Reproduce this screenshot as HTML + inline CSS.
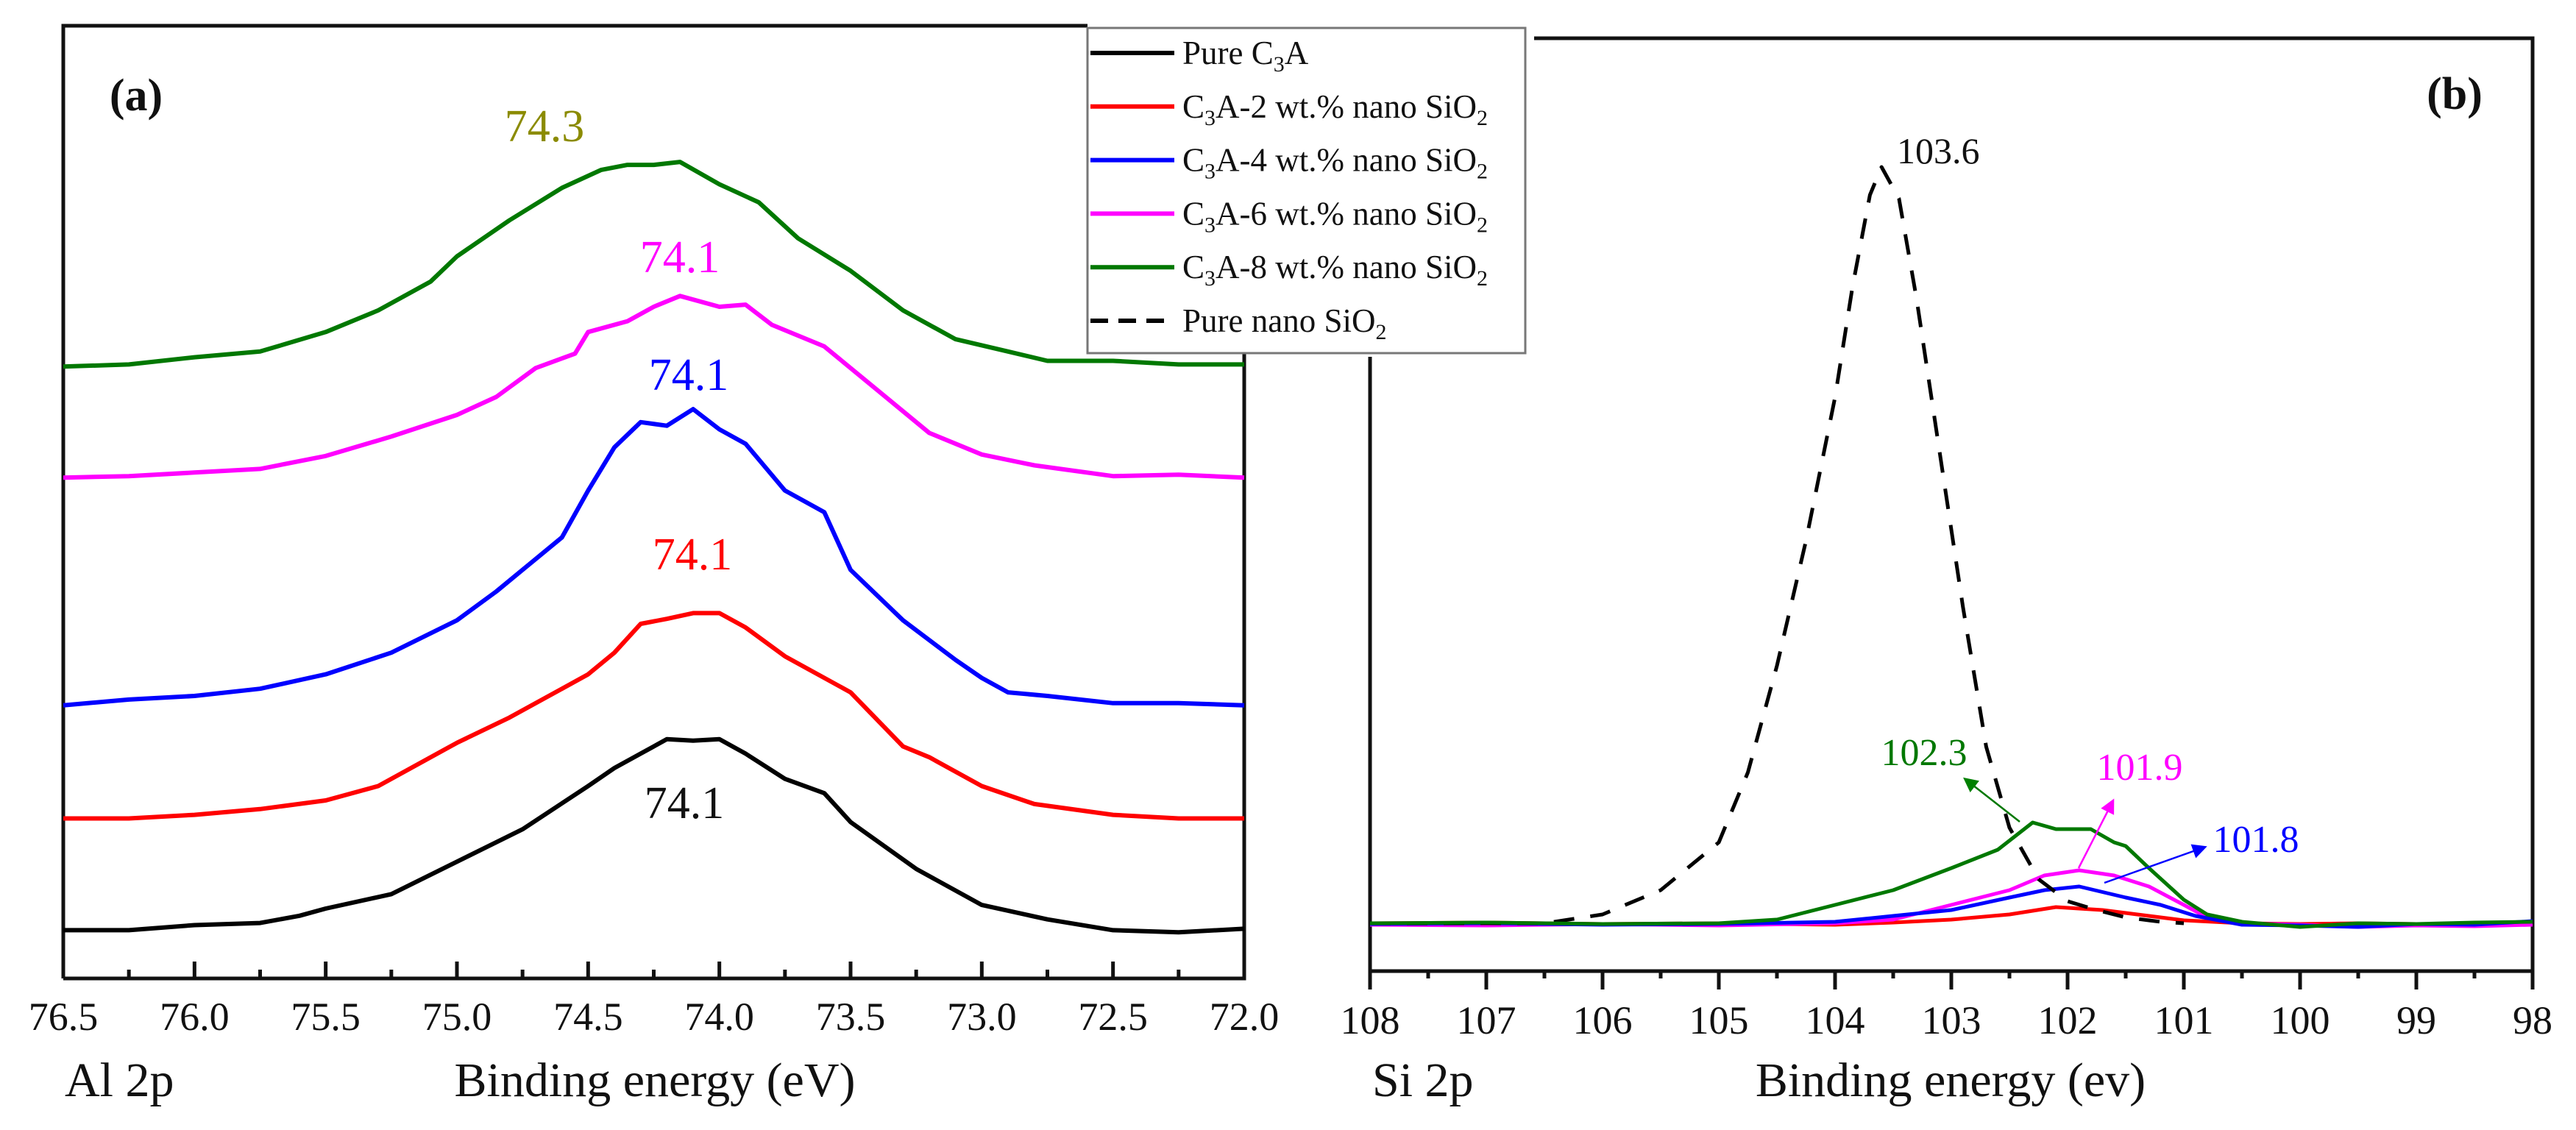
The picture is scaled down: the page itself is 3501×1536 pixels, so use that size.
<!DOCTYPE html>
<html><head><meta charset="utf-8"><style>
html,body{margin:0;padding:0;background:#fff;}
svg{display:block;font-family:"Liberation Serif","Times New Roman",serif;}
svg text{font-family:"Liberation Serif","Times New Roman",serif;}
</style></head><body>
<svg id="fig" width="3501" height="1536" viewBox="0 0 3501 1536" xmlns="http://www.w3.org/2000/svg" font-family="Liberation Serif, serif">
<defs>
<marker id="arrG" markerWidth="8" markerHeight="8" refX="6" refY="4" orient="auto" markerUnits="strokeWidth"><path d="M0,0 L8,4 L0,8 z" fill="#008000"/></marker>
<marker id="arrM" markerWidth="8" markerHeight="8" refX="6" refY="4" orient="auto" markerUnits="strokeWidth"><path d="M0,0 L8,4 L0,8 z" fill="#ff00ff"/></marker>
<marker id="arrB" markerWidth="8" markerHeight="8" refX="6" refY="4" orient="auto" markerUnits="strokeWidth"><path d="M0,0 L8,4 L0,8 z" fill="#0000ff"/></marker>
</defs>
<g id="panelA"></g>
<g id="panelB"></g>
<g id="legend"></g>
</svg>
<script>
// ---------- Panel (a) data: Al 2p ----------
const aBlackX = [76.5,76.25,76.0,75.75,75.6,75.5,75.25,75.0,74.75,74.5,74.4,74.3,74.2,74.1,74.0,73.9,73.75,73.6,73.5,73.25,73.0,72.75,72.5,72.25,72.0];
const aBlackY = [6.7,6.7,7.4,7.7,8.7,9.7,11.7,16.2,20.7,26.7,29.2,31.2,33.2,33.0,33.2,31.2,27.7,25.7,21.7,15.2,10.2,8.2,6.7,6.4,6.9];
const aRedX = [76.5,76.25,76.0,75.75,75.5,75.3,75.0,74.8,74.6,74.5,74.4,74.3,74.2,74.1,74.0,73.9,73.75,73.5,73.3,73.2,73.0,72.8,72.5,72.25,72.0];
const aRedY = [22.2,22.2,22.7,23.5,24.7,26.7,32.7,36.2,40.2,42.2,45.2,49.2,49.9,50.7,50.7,48.7,44.7,39.7,32.2,30.7,26.7,24.2,22.7,22.2,22.2];
const aBlueX = [76.5,76.25,76.0,75.75,75.5,75.25,75.0,74.85,74.75,74.6,74.5,74.4,74.3,74.2,74.1,74.0,73.9,73.75,73.6,73.5,73.3,73.1,73.0,72.9,72.75,72.5,72.25,72.0];
const aBlueY = [37.9,38.7,39.2,40.2,42.2,45.2,49.7,53.7,56.7,61.2,67.7,73.7,77.2,76.7,79.0,76.2,74.2,67.7,64.7,56.7,49.7,44.2,41.7,39.7,39.2,38.2,38.2,37.9];
const aMagX = [76.5,76.25,76.0,75.75,75.5,75.25,75.0,74.85,74.7,74.55,74.5,74.35,74.25,74.15,74.0,73.9,73.8,73.6,73.4,73.2,73.0,72.8,72.5,72.25,72.0];
const aMagY = [69.5,69.7,70.2,70.7,72.5,75.2,78.2,80.7,84.7,86.7,89.7,91.2,93.2,94.7,93.2,93.5,90.7,87.7,81.7,75.7,72.7,71.2,69.7,69.9,69.5];
const aGreenX = [76.5,76.25,76.0,75.75,75.5,75.3,75.1,75.0,74.8,74.6,74.45,74.35,74.25,74.15,74.0,73.85,73.7,73.5,73.3,73.1,72.9,72.75,72.5,72.25,72.0];
const aGreenY = [84.9,85.2,86.2,87.0,89.7,92.7,96.7,100.2,105.2,109.7,112.2,112.9,112.9,113.3,110.2,107.7,102.7,98.2,92.7,88.7,87.0,85.7,85.7,85.2,85.2];
const aTickLabels = ["76.5","76.0","75.5","75.0","74.5","74.0","73.5","73.0","72.5","72.0"];
const aPeakLabels = ["74.1","74.1","74.1","74.1","74.3"];

// ---------- Panel (b) data: Si 2p ----------
const bDashX = [108,107.5,107,106.5,106,105.5,105,104.75,104.5,104.25,104,103.85,103.7,103.6,103.45,103.3,103.1,102.9,102.7,102.5,102.25,102,101.75,101.5,101.2,101];
const bDashY = [6.5,6.5,6.5,6.5,7.7,11.0,17.5,27.0,41.5,58.5,78.0,93.0,105.5,109.3,105.0,91.5,70.5,49.5,30.5,19.5,12.5,9.5,8.3,7.3,6.7,6.5];
const bGreenX = [108,107,106,105,104.5,104,103.5,103,102.6,102.3,102.1,101.8,101.6,101.5,101.3,101.0,100.8,100.5,100,99.5,99,98.5,98];
const bGreenY = [6.5,6.6,6.4,6.5,7.0,9.0,11.0,14.0,16.5,20.2,19.3,19.3,17.5,17.0,14.0,9.7,7.7,6.7,6.0,6.5,6.4,6.6,6.7];
const bMagX = [108,107,106,105,104,103.5,103,102.5,102.2,101.9,101.6,101.3,101.0,100.8,100.5,100,99.5,99,98.5,98];
const bMagY = [6.3,6.2,6.4,6.2,6.5,7.0,9.0,11.0,13.0,13.7,13.0,11.5,9.0,7.3,6.5,6.3,6.0,6.2,6.1,6.3];
const bBlueX = [108,107,106,105,104,103.5,103,102.5,102.2,101.9,101.5,101.2,100.9,100.5,100,99.5,99,98.5,98];
const bBlueY = [6.4,6.5,6.3,6.4,6.7,7.5,8.3,10.0,11.0,11.5,10.0,9.0,7.5,6.3,6.2,6.0,6.4,6.3,6.8];
const bRedX = [108,107,106,105,104,103.5,103,102.5,102.1,101.7,101.3,101,100.5,100,99.5,99,98.5,98];
const bRedY = [6.5,6.6,6.4,6.5,6.3,6.6,7.0,7.7,8.7,8.3,7.5,6.9,6.5,6.4,6.5,6.4,6.3,6.5];
const bTickLabels = ["108","107","106","105","104","103","102","101","100","99","98"];

// ---------- Legend ----------
const legendNames = ["Pure C|3|A","C|3|A-2 wt.% nano SiO|2|","C|3|A-4 wt.% nano SiO|2|","C|3|A-6 wt.% nano SiO|2|","C|3|A-8 wt.% nano SiO|2|","Pure nano SiO|2|"];
const legendColors = ["#000000","#ff0000","#0000ff","#ff00ff","#007800","#000000"];

const NS = "http://www.w3.org/2000/svg";
const FF = "Liberation Serif, Times New Roman, serif";
function mk(parent, tag, attrs){const e=document.createElementNS(NS,tag);for(const k in attrs)e.setAttribute(k,attrs[k]);if(tag==="text")e.setAttribute("font-family",FF);parent.appendChild(e);return e;}

const axA = {l:86, r:1691, t:35, b:1330, x0:76.5, x1:72.0, y0:0, y1:132.2};
const axB = {l:1862, r:3442, t:52, b:1320, x0:108, x1:98, y0:0, y1:126.8};
function sx(ax,v){return ax.l+(v-ax.x0)/(ax.x1-ax.x0)*(ax.r-ax.l);}
function sy(ax,v){return ax.b-(v-ax.y0)/(ax.y1-ax.y0)*(ax.b-ax.t);}
function pathOf(ax,xs,ys){return xs.map((x,i)=>(i?"L":"M")+sx(ax,x).toFixed(1)+","+sy(ax,ys[i]).toFixed(1)).join(" ");}

const gA=document.getElementById("panelA"), gB=document.getElementById("panelB"), gL=document.getElementById("legend");

let e;
e=mk(gA,"path",{d:`M${axA.l},${axA.b} L${axA.l},${axA.t} L1478,${axA.t} M${axA.l},${axA.b} L${axA.r},${axA.b} L${axA.r},480`,fill:"none",stroke:"#111",["stroke-width"]:5});


for(let i=0;i<=18;i++){
  const v=76.5-i*0.25, x=sx(axA,v), major=i%2===0;
  e=mk(gA,"line",{x1:x,y1:axA.b,x2:x,y2:axA.b-(major?23:12),stroke:"#111",["stroke-width"]:5});
  
  
}
aTickLabels.forEach((t,i)=>{
  e=mk(gA,"text",{x:sx(axA,76.5-i*0.5),y:1400,["font-size"]:54,["text-anchor"]:"middle",fill:"#111"});e.textContent=t;
  
  
});
e=mk(gA,"text",{x:890,y:1490,["font-size"]:66,["text-anchor"]:"middle",fill:"#111"});e.textContent="Binding energy (eV)";


e=mk(gA,"text",{x:88,y:1490,["font-size"]:66,fill:"#111"});e.textContent="Al 2p";


e=mk(gA,"text",{x:185,y:150,["font-size"]:62,["font-weight"]:"bold",["text-anchor"]:"middle",fill:"#111"});e.textContent="(a)";



const seriesA=[[aBlackX,aBlackY,"#000000","series-a-pure-c3a"],[aRedX,aRedY,"#ff0000","series-a-2wt"],[aBlueX,aBlueY,"#0000ff","series-a-4wt"],[aMagX,aMagY,"#ff00ff","series-a-6wt"],[aGreenX,aGreenY,"#007800","series-a-8wt"]];
seriesA.forEach(s=>{
  e=mk(gA,"path",{d:pathOf(axA,s[0],s[1]),fill:"none",stroke:s[2],["stroke-width"]:6,["stroke-linejoin"]:"round"});
  
  
});
const peakPos=[[930,1112,"#111"],[941,774,"#ff0000"],[936,530,"#0000ff"],[924,370,"#ff00ff"],[740,192,"#8b8b00"]];
aPeakLabels.forEach((t,i)=>{
  e=mk(gA,"text",{x:peakPos[i][0],y:peakPos[i][1],["font-size"]:62,["text-anchor"]:"middle",fill:peakPos[i][2]});e.textContent=t;
  
  
});

e=mk(gB,"path",{d:`M${axB.l},485 L${axB.l},1345 M${axB.l},${axB.b} L${axB.r},${axB.b} L${axB.r},${axB.t} L2085,${axB.t}`,fill:"none",stroke:"#111",["stroke-width"]:5});


for(let i=0;i<=20;i++){
  const v=108-i*0.5, x=sx(axB,v), major=i%2===0;
  e=mk(gB,"line",{x1:x,y1:axB.b,x2:x,y2:axB.b+(major?25:10),stroke:"#111",["stroke-width"]:5});
  
  
}
bTickLabels.forEach((t,i)=>{
  e=mk(gB,"text",{x:sx(axB,108-i),y:1405,["font-size"]:54,["text-anchor"]:"middle",fill:"#111"});e.textContent=t;
  
  
});
e=mk(gB,"text",{x:2651,y:1490,["font-size"]:66,["text-anchor"]:"middle",fill:"#111"});e.textContent="Binding energy (ev)";


e=mk(gB,"text",{x:1865,y:1490,["font-size"]:66,fill:"#111"});e.textContent="Si 2p";


e=mk(gB,"text",{x:3336,y:148,["font-size"]:62,["font-weight"]:"bold",["text-anchor"]:"middle",fill:"#111"});e.textContent="(b)";



const seriesB=[[bRedX,bRedY,"#ff0000","series-b-2wt",null],[bMagX,bMagY,"#ff00ff","series-b-6wt",null],[bBlueX,bBlueY,"#0000ff","series-b-4wt",null],[bDashX,bDashY,"#000000","series-b-pure-nano-sio2","28,22"],[bGreenX,bGreenY,"#007800","series-b-8wt",null]];
seriesB.forEach(s=>{
  const at={d:pathOf(axB,s[0],s[1]),fill:"none",stroke:s[2],["stroke-width"]:5,["stroke-linejoin"]:"round"};
  if(s[4])at["stroke-dasharray"]=s[4];
  e=mk(gB,"path",at);
  
  
});
e=mk(gB,"text",{x:2578,y:222,["font-size"]:50,fill:"#111"});e.textContent="103.6";


const ann=[["102.3",2615,1040,"#007800",[2745,1117,2672,1060],"arrG"],["101.9",2908,1060,"#ff00ff",[2825,1180,2871,1090],"arrM"],["101.8",3066,1158,"#0000ff",[2860,1200,2995,1152],"arrB"]];
ann.forEach(a=>{
  e=mk(gB,"text",{x:a[1],y:a[2],["font-size"]:52,["text-anchor"]:"middle",fill:a[3]});e.textContent=a[0];
  
  
  e=mk(gB,"line",{x1:a[4][0],y1:a[4][1],x2:a[4][2],y2:a[4][3],stroke:a[3],["stroke-width"]:2.5,["marker-end"]:`url(#${a[5]})`});
  
  
});

e=mk(gL,"rect",{x:1478,y:38,width:595,height:442,fill:"#fff",stroke:"#777",["stroke-width"]:3});


legendNames.forEach((n,i)=>{
  const y=72+i*72.8;
  const la={x1:1482,y1:y,x2:1596,y2:y,stroke:legendColors[i],["stroke-width"]:6};
  if(i===5)la["stroke-dasharray"]="24,14";
  e=mk(gL,"line",la);
  
  
  const t=mk(gL,"text",{x:1607,y:y+15,["font-size"]:45,fill:"#111"});
  
  
  n.split("|").forEach((part,k)=>{
    if(!part)return;
    const sp=document.createElementNS(NS,"tspan");
    if(k%2===1){sp.setAttribute("font-size","30");sp.setAttribute("dy","10");}
    else if(k>0){sp.setAttribute("dy","-10");}
    sp.textContent=part;t.appendChild(sp);
  });
});
</script>
</body></html>
